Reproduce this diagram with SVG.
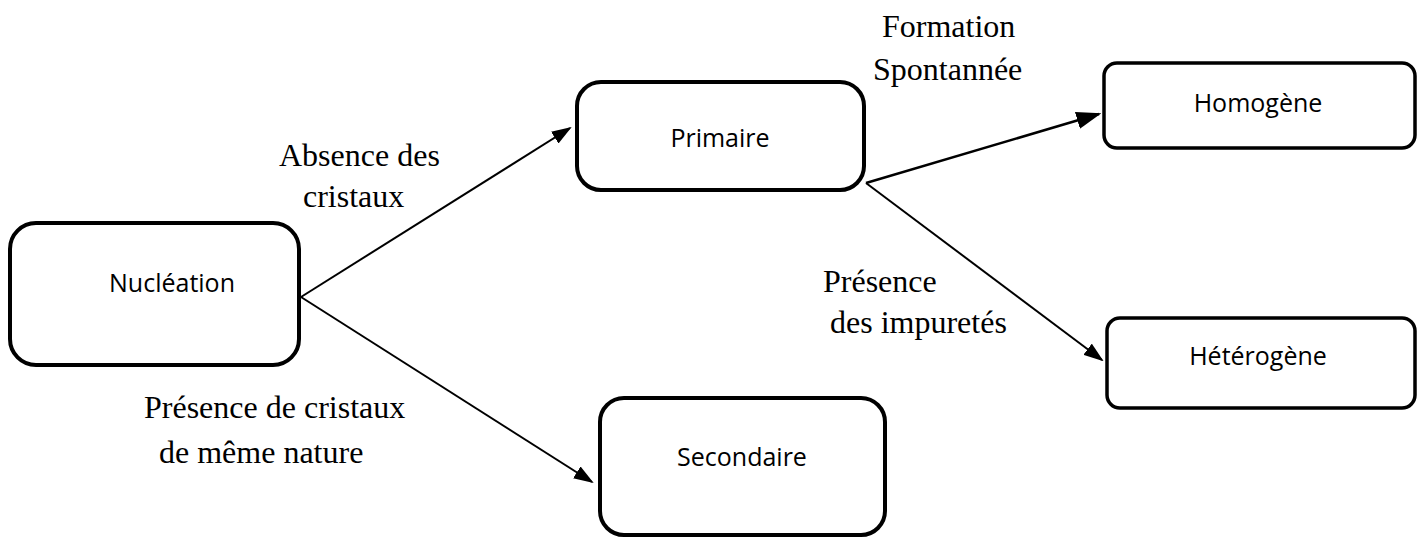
<svg xmlns="http://www.w3.org/2000/svg" width="1425" height="538" viewBox="0 0 1425 538">
<style>
.box{fill:#fff;stroke:#000;stroke-width:4}
.box3{fill:#fff;stroke:#000;stroke-width:3.5}
.lbl{font-family:"Open Sans","Liberation Sans",sans-serif;font-size:25px;fill:#000;text-anchor:middle}
.cap{font-family:"Liberation Serif","Times New Roman",serif;font-size:32px;fill:#000}
.con{stroke:#000;stroke-width:2;fill:none;marker-end:url(#ah)}
</style>
<defs>
<marker id="ah" markerWidth="10" markerHeight="7" refX="9" refY="3.5" orient="auto" markerUnits="strokeWidth">
<path d="M0,0 L10,3.5 L0,7 Z" fill="#000"/>
</marker>
</defs>
<rect width="1425" height="538" fill="#fff"/>
<g id="connectors">
<line class="con" x1="301" y1="297" x2="570" y2="128"/>
<line class="con" x1="301" y1="297" x2="592" y2="482"/>
<line class="con" x1="866" y1="183" x2="1099" y2="114" style="stroke-width:2.5"/>
<line class="con" x1="866" y1="183" x2="1102" y2="360"/>
</g>
<g id="n-nucleation">
<rect class="box" x="10" y="223" width="289" height="142" rx="26"/>
<text class="lbl" x="172" y="292">Nucléation</text>
</g>
<g id="n-primaire">
<rect class="box" x="577" y="82" width="287" height="108" rx="24"/>
<text class="lbl" x="720" y="147">Primaire</text>
</g>
<g id="n-secondaire">
<rect class="box" x="600" y="398" width="285" height="137" rx="24"/>
<text class="lbl" x="742" y="466">Secondaire</text>
</g>
<g id="n-homogene">
<rect class="box3" x="1104" y="63" width="311" height="85" rx="13"/>
<text class="lbl" x="1258" y="112">Homogène</text>
</g>
<g id="n-heterogene">
<rect class="box3" x="1107" y="318" width="308" height="90" rx="13"/>
<text class="lbl" x="1258" y="365">Hétérogène</text>
</g>
<g id="labels">
<text class="cap" x="279" y="166">Absence des</text>
<text class="cap" x="303" y="207">cristaux</text>
<text class="cap" x="882" y="37">Formation</text>
<text class="cap" x="873" y="80">Spontannée</text>
<text class="cap" x="823" y="292">Présence</text>
<text class="cap" x="830" y="333">des impuretés</text>
<text class="cap" x="144" y="418">Présence de cristaux</text>
<text class="cap" x="159" y="463">de même nature</text>
</g>
</svg>
